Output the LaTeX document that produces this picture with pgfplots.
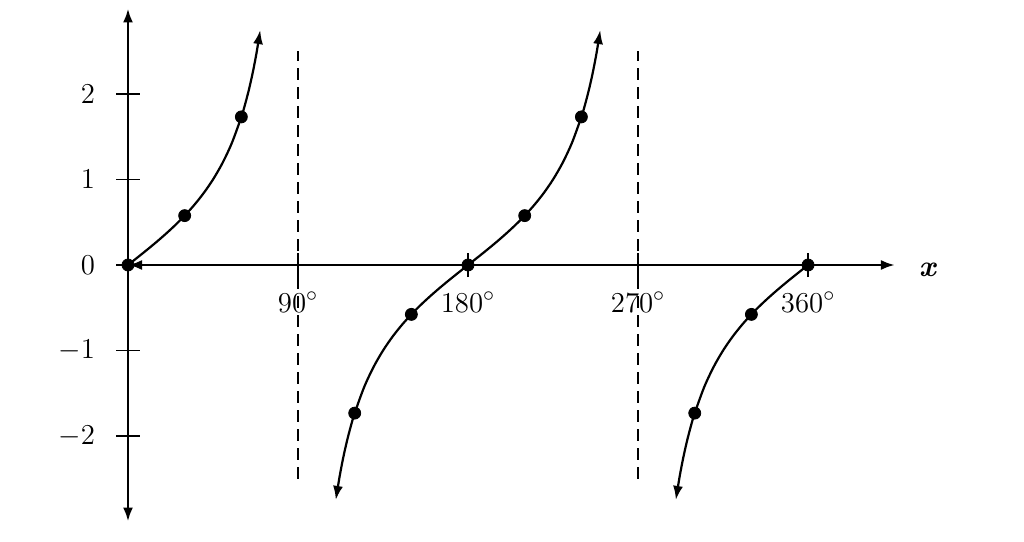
\documentclass[border=0pt]{standalone}
\usepackage{pgfplots}
\pgfplotsset{compat=1.18}
\usetikzlibrary{arrows.meta}

\begin{document}
\begin{tikzpicture}
\begin{axis}[
  x=0.9444pt, y=42.75pt,
  xmin=0, xmax=406, ymin=-3, ymax=3,
  axis lines=middle,
  axis line style={line width=1.3pt, {Latex[length=7pt,width=5pt]}-{Latex[length=7pt,width=5pt]}},
  clip=false,
  font=\fontsize{15}{18}\selectfont,
  hide obscured x ticks=false,
  hide obscured y ticks=false,
  xtick={90,180,270,360},
  xticklabels={$90^\circ$,$180^\circ$,$270^\circ$,$360^\circ$},
  ytick={-2,-1,0,1,2},
  tick align=center,
  major tick length=12pt,
  tick style={black, line width=0.8pt},
  xticklabel style={yshift=-4pt},
  yticklabel style={xshift=-7pt},
  xlabel={\textbf{\textit{x}}},
  xlabel style={at={(axis cs:423.5,-0.06)}, anchor=center},
]
% room round the axes, as in the reference
\path (axis cs:-67.76,-3.228) rectangle (axis cs:474.3,3.099);

% asymptotes
\addplot[black, line width=1pt, dash pattern=on 6pt off 3.5pt] coordinates {(90,-2.5) (90,2.5)};
\addplot[black, line width=1pt, dash pattern=on 6pt off 3.5pt] coordinates {(270,-2.5) (270,2.5)};

% branch 1
\addplot[black, line width=1.1pt, smooth, -{Latex[length=7pt,width=5pt]}] coordinates {
 (0,0) (5,0.0875) (10,0.1763) (15,0.2679) (20,0.3640) (25,0.4663) (30,0.5774)
 (35,0.7002) (40,0.8391) (45,1) (50,1.1918) (55,1.4281) (60,1.7321)
 (62,1.8807) (64,2.0503) (66,2.2460) (68,2.4751) (70,2.7475)
};
% branch 2
\addplot[black, line width=1.1pt, smooth, {Latex[length=7pt,width=5pt]}-{Latex[length=7pt,width=5pt]}] coordinates {
 (110,-2.7475) (112,-2.4751) (114,-2.2460) (116,-2.0503) (118,-1.8807) (120,-1.7321)
 (125,-1.4281) (130,-1.1918) (135,-1) (140,-0.8391) (145,-0.7002) (150,-0.5774)
 (155,-0.4663) (160,-0.3640) (165,-0.2679) (170,-0.1763) (175,-0.0875) (180,0)
 (185,0.0875) (190,0.1763) (195,0.2679) (200,0.3640) (205,0.4663) (210,0.5774)
 (215,0.7002) (220,0.8391) (225,1) (230,1.1918) (235,1.4281) (240,1.7321)
 (242,1.8807) (244,2.0503) (246,2.2460) (248,2.4751) (250,2.7475)
};
% branch 3
\addplot[black, line width=1.1pt, smooth, {Latex[length=7pt,width=5pt]}-] coordinates {
 (290,-2.7475) (292,-2.4751) (294,-2.2460) (296,-2.0503) (298,-1.8807) (300,-1.7321)
 (305,-1.4281) (310,-1.1918) (315,-1) (320,-0.8391) (325,-0.7002) (330,-0.5774)
 (335,-0.4663) (340,-0.3640) (345,-0.2679) (350,-0.1763) (355,-0.0875) (360,0)
};

% marked points
\addplot[only marks, mark=*, mark size=3pt, black] coordinates {
 (0,0) (30,0.5774) (60,1.7321)
 (120,-1.7321) (150,-0.5774) (180,0) (210,0.5774) (240,1.7321)
 (300,-1.7321) (330,-0.5774) (360,0)
};
\end{axis}
\end{tikzpicture}
\end{document}
